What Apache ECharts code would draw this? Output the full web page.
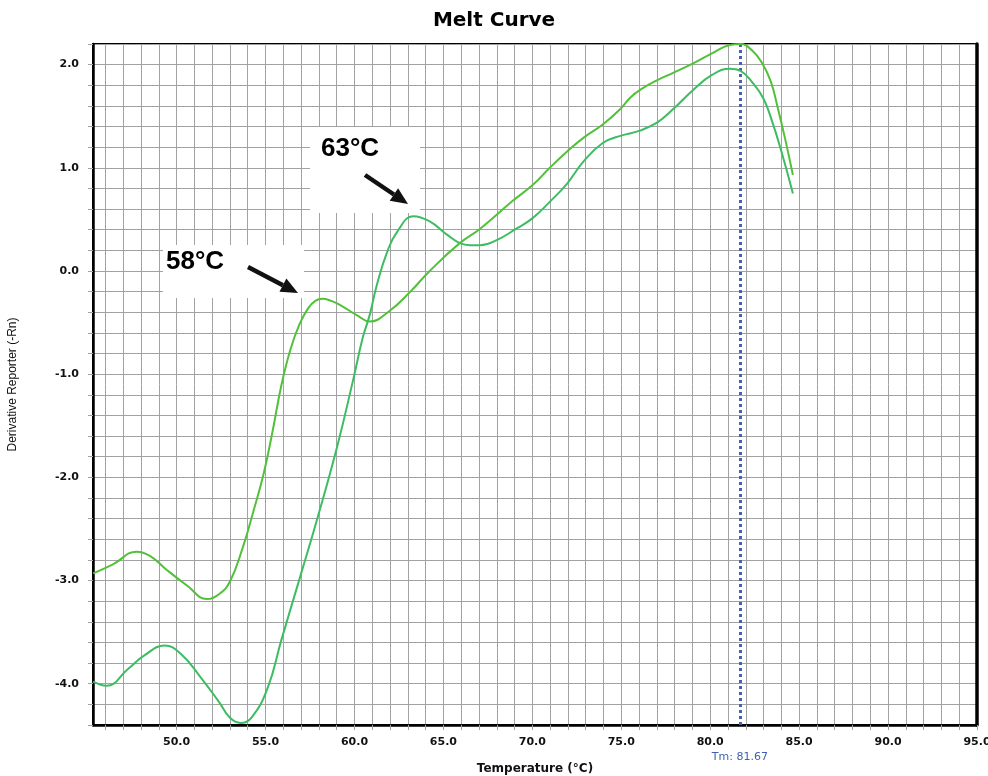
<!DOCTYPE html>
<html>
<head>
<meta charset="utf-8">
<script src="https://cdn.jsdelivr.net/npm/echarts@6/dist/echarts.min.js"></script>
<style>
  html, body { margin: 0; padding: 0; background: #fff; }
  #chart { width: 988px; height: 776px; }
</style>
</head>
<body>
<div id="chart"></div>
<script>
// melt curve, two wells
const tempA = [45.31, 46.45, 47.75, 48.5, 49.4, 50.6, 51.7, 52.4, 53.0, 53.7, 54.3, 54.9, 55.4, 55.9, 56.4,
  56.9, 57.4, 57.8, 58.2, 58.7, 59.2, 60.15, 60.85, 61.95, 63.14, 64.23, 65.92, 67.07, 68.9, 70.0, 70.98, 71.97,
  72.87, 73.96, 74.95, 75.5, 76.1, 77.03, 77.92, 79.01, 80.1, 81.1, 81.7, 82.4, 82.9, 83.4, 83.8, 84.2, 84.65]
const derivA = [-2.93, -2.84, -2.72, -2.76, -2.89, -3.05, -3.18, -3.13, -3.01, -2.69, -2.34, -1.96, -1.55, -1.1, -0.76,
  -0.52, -0.36, -0.29, -0.27, -0.29, -0.33, -0.43, -0.49, -0.39, -0.20, 0.0, 0.27, 0.41, 0.68, 0.83, 1.0, 1.16,
  1.29, 1.42, 1.57, 1.68, 1.76, 1.85, 1.92, 2.01, 2.11, 2.19, 2.2, 2.13, 2.02, 1.84, 1.58, 1.29, 0.93]

const tempB = [45.31, 46.06, 47.25, 48.15, 49.33, 50.23, 51.32, 52.4, 53.0, 53.6, 54.2, 55.1, 55.9, 56.97, 57.86, 59.0,
  59.92, 60.46, 60.85, 61.25, 61.85, 62.4, 63.3, 64.23, 65.22, 65.92, 66.5, 67.07, 68.0, 69.1, 70.0,
  70.98, 71.97, 72.87, 73.96, 74.95, 76.04, 77.03, 77.92, 79.01, 80.1, 81.1, 81.7, 82.4, 83.0, 83.5, 84.0, 84.65]
const derivB = [-3.98, -4.02, -3.86, -3.73, -3.63, -3.71, -3.93, -4.18, -4.33, -4.38, -4.33, -4.05, -3.57, -2.95, -2.43, -1.72,
  -1.06, -0.65, -0.43, -0.14, 0.19, 0.38, 0.53, 0.48, 0.35, 0.27, 0.25, 0.25, 0.30, 0.41, 0.51,
  0.67, 0.85, 1.06, 1.24, 1.31, 1.36, 1.44, 1.57, 1.75, 1.90, 1.96, 1.94, 1.82, 1.67, 1.44, 1.16, 0.75]

const xLabels = [50, 55, 60, 65, 70, 75, 80, 85, 90, 95]
const tm = 81.67

const xGrid = []
for (let t = 46; t <= 95; t++) xGrid.push(t)

const GRID_COLOR = '#a2a2a2'
const TICK_FONT = { color: '#111', fontSize: 11, fontWeight: 'bold', fontFamily: 'DejaVu Sans' }

function arrow(x1, y1, x2, y2) {
  const a = Math.atan2(y2 - y1, x2 - x1)
  const len = 17, half = 7.5
  const bx = x2 - len * Math.cos(a), by = y2 - len * Math.sin(a)
  const nx = -Math.sin(a), ny = Math.cos(a)
  return [
    { type: 'line', z: 100, shape: { x1, y1, x2: bx, y2: by }, style: { stroke: '#111', lineWidth: 4.5 } },
    { type: 'polygon', z: 100, shape: { points: [[x2, y2], [bx + nx * half, by + ny * half], [bx - nx * half, by - ny * half]] },
      style: { fill: '#111' } }
  ]
}

const chart = echarts.init(document.getElementById('chart'))
chart.setOption({
  animation: false,
  backgroundColor: '#fff',
  title: {
    text: 'Melt Curve', left: 'center', top: 6,
    textStyle: { fontFamily: 'DejaVu Sans', fontWeight: 'bold', fontSize: 20, color: '#000' }
  },
  grid: { left: 93, right: 11, top: 44, bottom: 51, show: true, borderColor: '#000', borderWidth: 2,
    outerBoundsMode: 'none' },
  xAxis: [{
    type: 'value', min: 45.3, max: 95,
    name: 'Temperature (°C)', nameLocation: 'middle', nameGap: 38,
    nameTextStyle: { fontFamily: 'DejaVu Sans', fontWeight: 'bold', fontSize: 12, color: '#111' },
    axisLine: { onZero: false, lineStyle: { color: '#000', width: 2.5 } },
    axisTick: { customValues: xGrid, length: 5, lineStyle: { color: GRID_COLOR } },
    axisLabel: { ...TICK_FONT, customValues: xLabels, margin: 12, formatter: v => v.toFixed(1) },
    splitLine: { show: true, lineStyle: { color: GRID_COLOR, width: 1 } }
  }],
  yAxis: [{
    type: 'value', min: -4.4, max: 2.2, interval: 0.2,
    name: 'Derivative Reporter (-Rn)', nameLocation: 'middle', nameGap: 74,
    nameTextStyle: { fontFamily: 'Liberation Sans', fontSize: 12, color: '#111' },
    axisLine: { lineStyle: { color: '#000', width: 2.5 } },
    axisTick: { show: true, length: 5, lineStyle: { color: GRID_COLOR } },
    axisLabel: { ...TICK_FONT, margin: 14,
      formatter: v => Math.abs(v - Math.round(v)) < 1e-6 ? (Math.round(v * 10) / 10).toFixed(1) : '' },
    splitLine: { show: true, lineStyle: { color: GRID_COLOR, width: 1 } }
  }, {
    type: 'value', min: -4.4, max: 2.2, position: 'right',
    axisLine: { show: true, lineStyle: { color: '#000', width: 3.5 } },
    axisTick: { show: false }, axisLabel: { show: false }, splitLine: { show: false }
  }],
  graphic: [
    { type: 'rect', z: 1, shape: { x: 163, y: 245, width: 141, height: 53 }, style: { fill: '#fff' } },
    { type: 'rect', z: 1, shape: { x: 310, y: 127, width: 110, height: 86 }, style: { fill: '#fff' } },
    { type: 'text', z: 100, left: 166, top: 249,
      style: { text: '58°C', fill: '#000', font: 'bold 26px "Liberation Sans"' } },
    { type: 'text', z: 100, left: 321, top: 136,
      style: { text: '63°C', fill: '#000', font: 'bold 26px "Liberation Sans"' } },
    ...arrow(248, 267, 298, 293),
    ...arrow(365, 175, 408, 204)
  ],
  series: [{
    name: 'A', type: 'line', smooth: 0.45, symbol: 'none', z: 5,
    lineStyle: { color: '#52c13a', width: 2 },
    data: tempA.map((t, i) => [t, derivA[i]]),
    markLine: {
      silent: true, symbol: 'none',
      lineStyle: { color: '#4661b4', type: 'dotted', width: 3 },
      label: { position: 'start', distance: 27, formatter: 'Tm: ' + tm.toFixed(2),
        color: '#3f5fb0', fontSize: 11, fontFamily: 'DejaVu Sans' },
      data: [{ xAxis: tm }]
    }
  }, {
    name: 'B', type: 'line', smooth: 0.45, symbol: 'none', z: 5,
    lineStyle: { color: '#3cbd62', width: 2 },
    data: tempB.map((t, i) => [t, derivB[i]])
  }]
})
window.addEventListener('resize', () => chart.resize())
</script>
</body>
</html>
